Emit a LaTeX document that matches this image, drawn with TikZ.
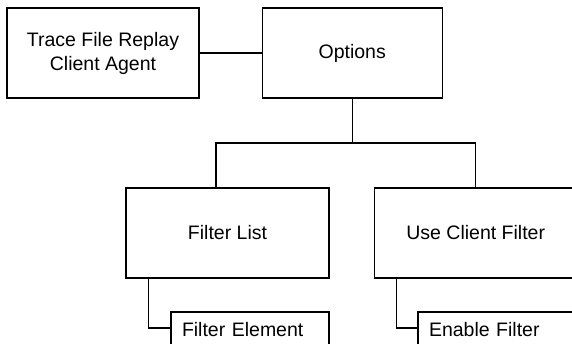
\documentclass[tikz,border=0pt]{standalone}
\usepackage{fontspec}
\setmainfont{Liberation Sans}
\usepackage{tikz}
\usetikzlibrary{positioning, calc}
\tikzstyle{block} = [rectangle, minimum width=203pt, minimum height=90pt, text centered, align=center, draw=black, line width=1.2pt]
\tikzstyle{leaf} = [rectangle, minimum height=36pt, text width=136pt, inner xsep=11pt, align=left, draw=black, line width=1.2pt]
\tikzstyle{link} = [line width=1.2pt]

\begin{document}
\begin{tikzpicture}[x=1pt, y=-1pt, every node/.style={font=\fontsize{19.5}{24}\selectfont}]
    \useasboundingbox (0,0) rectangle (572,343);
    \clip (0,0) rectangle (572,343);

    % Top row
    \node[block, minimum width=192pt] (agent) at (103,53) {Trace File Replay\\Client Agent};
    \node[block, minimum width=180pt, right=62pt of agent] (options) {Options};
    \draw[link] (agent) -- (options);

    % Second row
    \node[block] (filterlist) at (227.5,233) {Filter List};
    \node[block, right=44pt of filterlist] (useclient) {Use Client Filter};
    \coordinate (bus) at (0,143);

    \draw[link] (options.south) -- (options.south |- bus);
    \draw[link] ([xshift=-11.5pt]filterlist.north) -- ([xshift=-11.5pt]filterlist.north |- bus)
        -- (useclient.north |- bus) -- (useclient.north);

    % Leaves (cut by the lower edge)
    \node[leaf] (filterelem) at (250,330) {Filter Element};
    \node[leaf] (enablefilter) at (497,330) {Enable Filter};

    \draw[link] ([xshift=23pt]filterlist.south west) |- ([yshift=2pt]filterelem.west);
    \draw[link] ([xshift=23pt]useclient.south west) |- ([yshift=2pt]enablefilter.west);
\end{tikzpicture}
\end{document}
